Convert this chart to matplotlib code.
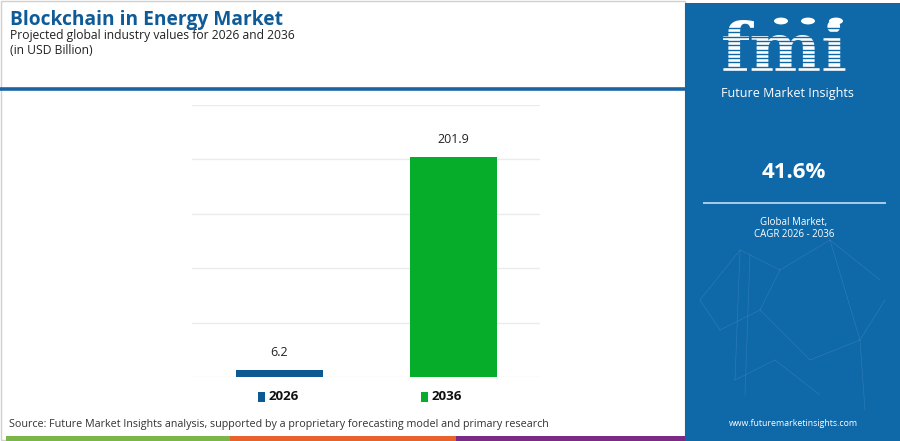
import numpy as np
import matplotlib
matplotlib.use("Agg")
import matplotlib.pyplot as plt
from matplotlib.patches import Rectangle, Circle

plt.rcParams['font.family'] = ['Open Sans', 'DejaVu Sans']

# data
years = ['2026', '2036']
values = [6.2, 201.9]
bar_colors = ['#0d5a93', '#06ad2b']
cagr = '41.6%'
title = 'Blockchain in Energy Market'
subtitle = 'Projected global industry values for 2026 and 2036'
unit = '(in USD Billion)'
source = 'Source: Future Market Insights analysis, supported by a proprietary forecasting model and primary research'

W, H = 900, 441
fig = plt.figure(figsize=(9, 4.41), dpi=100)
fig.patch.set_facecolor('white')

def fx(px):
    return px / W

def fy(py):
    return 1 - py / H

# page frame
fig.add_artist(Rectangle((fx(1), fy(440)), fx(684), 439 / H, transform=fig.transFigure,
                         fill=False, edgecolor='#d0d0d0', lw=1))

# header
fig.text(fx(10), fy(20), title, fontsize=13.8, fontweight='bold', color='#0f5b97', va='center', ha='left')
fig.text(fx(10), fy(35), subtitle, fontsize=8.7, color='#222222', va='center', ha='left')
fig.text(fx(10), fy(51), unit, fontsize=8.7, color='#222222', va='center', ha='left')
fig.add_artist(plt.Line2D([fx(0), fx(686)], [fy(89), fy(89)], transform=fig.transFigure,
                          color='#1a64a3', lw=2.6))

# chart
ax = fig.add_axes([fx(192), fy(377), fx(348), (377 - 105) / H])
x = np.arange(len(years))
ax.bar(x, values, width=0.5, color=bar_colors, zorder=3)
ax.set_xlim(-0.5, 1.5)
ax.set_ylim(0, 250)
ax.set_yticks([0, 50, 100, 150, 200, 250])
ax.yaxis.grid(True, color='#ebebeb', lw=1, zorder=0)
ax.tick_params(left=False, bottom=False, labelleft=False, labelbottom=False)
for s in ax.spines.values():
    s.set_visible(False)
for xi, v in zip(x, values):
    ax.annotate(f'{v}', (xi, v), xytext=(0, 8), textcoords='offset points',
                ha='center', va='bottom', fontsize=9, color='#222222')

# legend
leg_x = [258, 421]
for lx, yr, c in zip(leg_x, years, bar_colors):
    fig.add_artist(Rectangle((fx(lx), fy(402)), fx(7), 10 / H, transform=fig.transFigure,
                             color=c, lw=0))
    fig.text(fx(lx + 11), fy(397), yr, fontsize=9.6, fontweight='bold', color='#111111',
             va='center', ha='left')

# source
fig.text(fx(9), fy(425), source, fontsize=7.75, color='#333333', va='center', ha='left')

# bottom stripe
stripe = [(6, 230, '#7ab648'), (230, 456, '#e8632b'), (456, 685, '#7b2a86')]
for a, b, c in stripe:
    fig.add_artist(Rectangle((fx(a), 0), fx(b - a), 5 / H, transform=fig.transFigure,
                             color=c, lw=0))

# right panel
panel = '#0f68a8'
fig.add_artist(Rectangle((fx(685), 0), fx(215), fy(3), transform=fig.transFigure,
                         color=panel, lw=0))

# faint network lines in panel
net = [(700, 300, 740, 250), (740, 250, 780, 270), (780, 270, 830, 240), (830, 240, 880, 280),
       (720, 330, 760, 310), (760, 310, 810, 360), (810, 360, 860, 340), (860, 340, 885, 300),
       (735, 380, 775, 360), (775, 360, 820, 395), (740, 250, 735, 380), (830, 240, 860, 340),
       (700, 300, 720, 330), (780, 270, 760, 310), (860, 340, 865, 410), (750, 255, 745, 395)]
for x0, y0, x1, y1 in net:
    fig.add_artist(plt.Line2D([fx(x0), fx(x1)], [fy(y0), fy(y1)], transform=fig.transFigure,
                              color='#4d8fc4', lw=0.5, alpha=0.45))

# logo
fig.text(fx(784), fy(52), 'fmi', fontsize=49, fontweight='bold', family='DejaVu Serif',
         color='white', va='center', ha='center')
for yy in np.arange(28, 80, 4.3):
    fig.add_artist(plt.Line2D([fx(712), fx(858)], [fy(yy), fy(yy)], transform=fig.transFigure,
                              color=panel, lw=1.0, zorder=5))
for cx in [781, 808, 836]:
    fig.add_artist(Circle((fx(cx), fy(21)), 7 / W, transform=fig.transFigure,
                          facecolor='white', edgecolor='none', zorder=6))
fig.text(fx(787), fy(93), 'Future Market Insights', fontsize=9, color='white',
         va='center', ha='center')

fig.text(fx(794), fy(172), cagr, fontsize=16, fontweight='bold', color='white',
         va='center', ha='center')
fig.add_artist(plt.Line2D([fx(704), fx(885)], [fy(203), fy(203)], transform=fig.transFigure,
                          color='#a9cdea', lw=1.4))
fig.text(fx(794), fy(222), 'Global Market,', fontsize=7, color='white', va='center', ha='center')
fig.text(fx(794), fy(234), 'CAGR 2026 - 2036', fontsize=7, color='white', va='center', ha='center')
fig.text(fx(793), fy(424), 'www.futuremarketinsights.com', fontsize=6.3, color='white',
         va='center', ha='center')

fig.savefig('out.png', dpi=100)
